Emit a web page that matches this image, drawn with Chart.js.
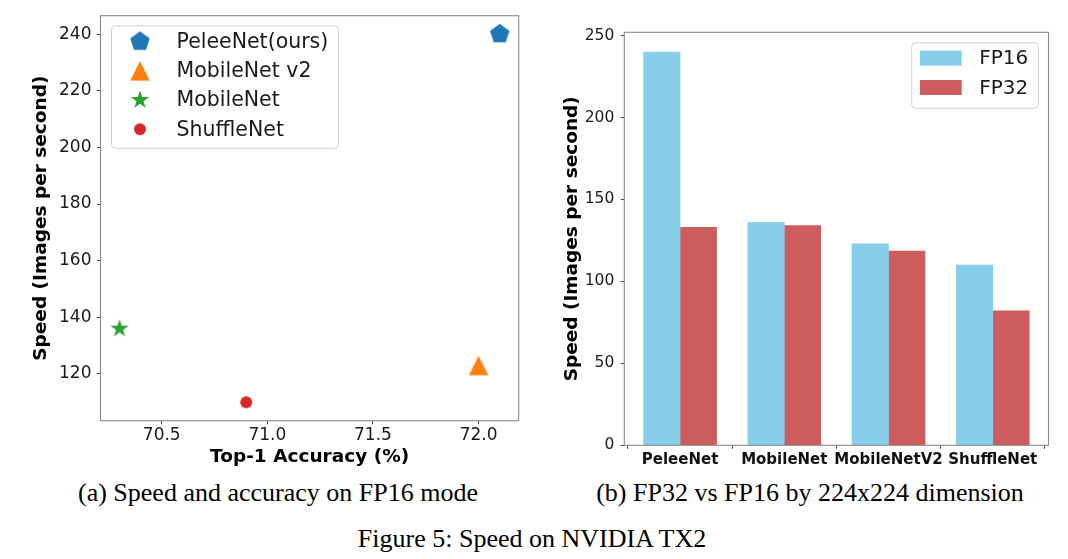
<!DOCTYPE html>
<html><head><meta charset="utf-8">
<script src="https://cdn.jsdelivr.net/npm/chart.js@4.4.1/dist/chart.umd.min.js"></script>
<style>
html,body{margin:0;padding:0;background:#fff;}
body{width:1068px;height:559px;position:relative;overflow:hidden;}
canvas{position:absolute;}
.cap{position:absolute;font-family:"Liberation Serif","Times New Roman",serif;font-size:26px;line-height:26px;white-space:nowrap;color:#000;transform:translateX(-50%);}
</style></head><body>
<canvas id="scatter" width="540" height="475" style="left:0;top:0"></canvas>
<canvas id="bars" width="528" height="475" style="left:540px;top:0"></canvas>
<div class="cap" style="left:278px;top:480px">(a) Speed and accuracy on FP16 mode</div>
<div class="cap" style="left:810px;top:480px">(b) FP32 vs FP16 by 224x224 dimension</div>
<div class="cap" style="left:532px;top:525.5px">Figure 5: Speed on NVIDIA TX2</div>
<script>
// ---------- data ----------
const models = ['PeleeNet(ours)', 'MobileNet v2', 'MobileNet', 'ShuffleNet'];
const accuracy = [72.1, 72.0, 70.3, 70.9];
const speedFP16Scatter = [240, 123, 136, 110];
const accTicks = [70.5, 71.0, 71.5, 72.0];
const speedTicks = [120, 140, 160, 180, 200, 220, 240];

const barCategories = ['PeleeNet', 'MobileNet', 'MobileNetV2', 'ShuffleNet'];
const fp16 = [240, 136, 123, 110];
const fp32 = [133, 134, 118.5, 82];
const barSpeedTicks = [0, 50, 100, 150, 200, 250];

// ---------- styles ----------
const FONT = "'DejaVu Sans', sans-serif";
const markerColors = ['#1f77b4', '#ff7f0e', '#2ca02c', '#d62728'];
const markerShapes = ['pentagon', 'triangle', 'star', 'circle'];
const TICK_COLOR = '#1a1a1a';
const FRAME_COLOR = '#8a8a8a';

function makeMarker(shape, color) {
  const S = 28, c = document.createElement('canvas');
  c.width = S; c.height = S;
  const g = c.getContext('2d');
  const cx = S / 2, cy = S / 2;
  g.fillStyle = color;
  g.beginPath();
  if (shape === 'pentagon') {
    const r = 10.2;
    for (let i = 0; i < 5; i++) {
      const a = -Math.PI / 2 + i * 2 * Math.PI / 5;
      const px = cx + r * Math.cos(a), py = cy + r * Math.sin(a);
      i ? g.lineTo(px, py) : g.moveTo(px, py);
    }
  } else if (shape === 'star') {
    const r = 9.6, ri = r * 0.381;
    for (let i = 0; i < 10; i++) {
      const a = -Math.PI / 2 + i * Math.PI / 5;
      const rr = i % 2 ? ri : r;
      const px = cx + rr * Math.cos(a), py = cy + rr * Math.sin(a);
      i ? g.lineTo(px, py) : g.moveTo(px, py);
    }
  } else if (shape === 'triangle') {
    const h = 9.7;
    g.moveTo(cx, cy - h); g.lineTo(cx - h, cy + h); g.lineTo(cx + h, cy + h);
  } else {
    g.arc(cx, cy, 6, 0, Math.PI * 2);
  }
  g.closePath();
  g.fill();
  return c;
}

function roundRect(ctx, x, y, w, h, r) {
  ctx.beginPath();
  ctx.moveTo(x + r, y);
  ctx.lineTo(x + w - r, y); ctx.quadraticCurveTo(x + w, y, x + w, y + r);
  ctx.lineTo(x + w, y + h - r); ctx.quadraticCurveTo(x + w, y + h, x + w - r, y + h);
  ctx.lineTo(x + r, y + h); ctx.quadraticCurveTo(x, y + h, x, y + h - r);
  ctx.lineTo(x, y + r); ctx.quadraticCurveTo(x, y, x + r, y);
  ctx.closePath();
}

const framePlugin = {
  id: 'frame',
  afterDatasetsDraw(chart) {
    const {ctx, chartArea: a} = chart;
    ctx.save();
    ctx.strokeStyle = FRAME_COLOR;
    ctx.lineWidth = 1.1;
    ctx.strokeRect(a.left, a.top, a.right - a.left, a.bottom - a.top);
    ctx.restore();
  }
};

const scatterLegend = {
  id: 'scatterLegend',
  afterDraw(chart) {
    const {ctx, chartArea: a} = chart;
    const x0 = a.left + 11, y0 = a.top + 10.2;
    ctx.save();
    roundRect(ctx, x0, y0, 227, 122.4, 4);
    ctx.fillStyle = 'rgba(255,255,255,0.8)';
    ctx.fill();
    ctx.strokeStyle = '#d0d0d0';
    ctx.lineWidth = 1;
    ctx.stroke();
    ctx.font = '20.5px ' + FONT;
    ctx.fillStyle = '#1a1a1a';
    ctx.textBaseline = 'middle';
    ctx.textAlign = 'left';
    chart.data.datasets.forEach((ds, i) => {
      const cy = y0 + 15.7 + i * 29.2;
      const img = ds.pointStyle;
      ctx.drawImage(img, x0 + 28.5 - img.width / 2, cy - img.height / 2);
      ctx.fillText(ds.label, x0 + 65, cy + 1);
    });
    ctx.restore();
  }
};

const barLegend = {
  id: 'barLegend',
  afterDraw(chart) {
    const {ctx, chartArea: a} = chart;
    const w = 126.6, h = 65.6;
    const x0 = a.right - 10.2 - w, y0 = a.top + 10.4;
    ctx.save();
    roundRect(ctx, x0, y0, w, h, 4);
    ctx.fillStyle = 'rgba(255,255,255,0.8)';
    ctx.fill();
    ctx.strokeStyle = '#d0d0d0';
    ctx.lineWidth = 1;
    ctx.stroke();
    ctx.font = '20px ' + FONT;
    ctx.fillStyle = '#1a1a1a';
    ctx.textBaseline = 'middle';
    ctx.textAlign = 'left';
    chart.data.datasets.forEach((ds, i) => {
      const cy = y0 + 15.5 + i * 29.3;
      ctx.fillStyle = ds.backgroundColor;
      ctx.fillRect(x0 + 8.3, cy - 7.5, 41.7, 15);
      ctx.fillStyle = '#1a1a1a';
      ctx.fillText(ds.label, x0 + 67.6, cy + 1);
    });
    ctx.restore();
  }
};

// ---------- chart (a): scatter ----------
new Chart(document.getElementById('scatter'), {
  type: 'scatter',
  data: {
    datasets: models.map((m, i) => ({
      label: m,
      data: [{x: accuracy[i], y: speedFP16Scatter[i]}],
      pointStyle: makeMarker(markerShapes[i], markerColors[i]),
      backgroundColor: markerColors[i],
      borderColor: markerColors[i],
      pointRadius: 10,
      borderWidth: 0
    }))
  },
  options: {
    responsive: false,
    devicePixelRatio: 1,
    animation: false,
    events: [],
    layout: {autoPadding: false, padding: {left: 0, right: 21.3, top: 13.3, bottom: 0}},
    plugins: {legend: {display: false}, tooltip: {enabled: false}},
    scales: {
      x: {
        type: 'linear', min: 70.21, max: 72.19,
        afterBuildTicks: s => { s.ticks = accTicks.map(v => ({value: v})); },
        afterFit: s => { s.height = 54.3; },
        ticks: {callback: v => Number(v).toFixed(1), font: {family: FONT, size: 17}, color: TICK_COLOR, padding: 1.5, maxRotation: 0, autoSkip: false},
        grid: {drawOnChartArea: false, drawTicks: true, tickLength: 3.5, tickColor: '#444', tickWidth: 1},
        border: {display: false},
        title: {display: true, text: 'Top-1 Accuracy (%)', font: {family: FONT, size: 18.5, weight: 'bold'}, color: '#000', padding: {top: 0, bottom: 6.6}}
      },
      y: {
        type: 'linear', min: 103.5, max: 246.5,
        afterBuildTicks: s => { s.ticks = speedTicks.map(v => ({value: v})); },
        afterFit: s => { s.width = 100.5; },
        ticks: {font: {family: FONT, size: 17}, color: TICK_COLOR, padding: 5.5, autoSkip: false},
        grid: {drawOnChartArea: false, drawTicks: true, tickLength: 3.5, tickColor: '#444', tickWidth: 1},
        border: {display: false},
        title: {display: true, text: 'Speed (Images per second)', font: {family: FONT, size: 18.5, weight: 'bold'}, color: '#000', padding: {top: 29.7, bottom: 0}}
      }
    }
  },
  plugins: [framePlugin, scatterLegend]
});

// ---------- chart (b): grouped bars ----------
const BAR_W = 0.35; // matplotlib bar width in category units
new Chart(document.getElementById('bars'), {
  type: 'bar',
  data: {
    datasets: [
      {label: 'FP16', data: fp16.map((v, i) => ({x: i - BAR_W / 2, y: v})), backgroundColor: '#87CEEB'},
      {label: 'FP32', data: fp32.map((v, i) => ({x: i + BAR_W / 2, y: v})), backgroundColor: '#CD5C5C'}
    ]
  },
  options: {
    responsive: false,
    devicePixelRatio: 1,
    animation: false,
    events: [],
    grouped: false,
    barPercentage: 1,
    categoryPercentage: 1,
    layout: {autoPadding: false, padding: {left: 0, right: 19.5, top: 32.3, bottom: 0}},
    plugins: {legend: {display: false}, tooltip: {enabled: false}},
    scales: {
      x: {
        type: 'linear', min: -0.535, max: 3.535, offset: false,
        afterBuildTicks: s => { s.ticks = barCategories.map((c, i) => ({value: i})); },
        afterFit: s => { s.height = 29.7; },
        ticks: {callback: v => barCategories[Math.round(v)], font: {family: FONT, size: 15, weight: 'bold'}, color: '#111', padding: 2.5, maxRotation: 0, autoSkip: false},
        grid: {drawOnChartArea: false, drawTicks: true, tickLength: 3.5, tickColor: '#444', tickWidth: 1},
        border: {display: false}
      },
      y: {
        type: 'linear', min: 0, max: 252,
        afterBuildTicks: s => { s.ticks = barSpeedTicks.map(v => ({value: v})); },
        afterFit: s => { s.width = 84.3; },
        ticks: {font: {family: FONT, size: 15.5}, color: TICK_COLOR, padding: 6.5, autoSkip: false},
        grid: {drawOnChartArea: false, drawTicks: true, tickLength: 3.5, tickColor: '#444', tickWidth: 1},
        border: {display: false},
        title: {display: true, text: 'Speed (Images per second)', font: {family: FONT, size: 18.5, weight: 'bold'}, color: '#000', padding: {top: 21.2, bottom: 0}}
      }
    }
  },
  plugins: [framePlugin, barLegend]
});
</script>
</body></html>
